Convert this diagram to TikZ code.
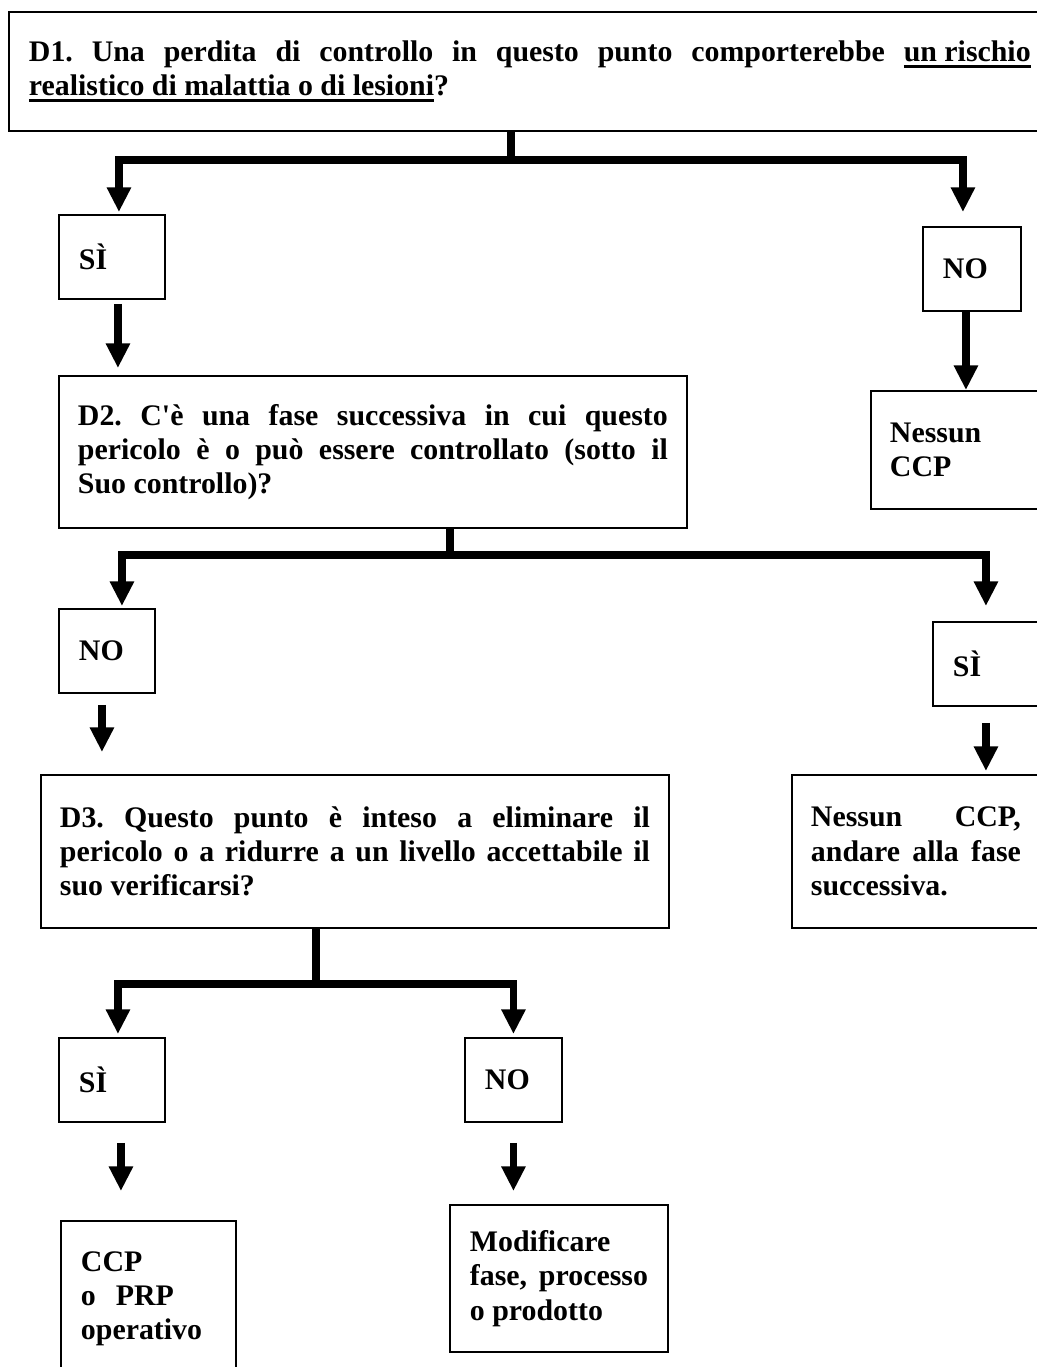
\documentclass[tikz,border=0pt]{standalone}
\usepackage{fontspec}
\setmainfont{Liberation Serif}[Ligatures=TeXOff]
\usetikzlibrary{arrows.meta,calc}
\newcommand{\uln}[1]{\leavevmode\vtop{\hbox{#1}\kern1.8pt\hrule height 1.4pt}}
\tikzset{
  box/.style={draw,line width=1.1pt,anchor=north west,inner ysep=0pt,inner xsep=0.4cm,
    align=justify,font=\bfseries\fontsize{17}{19.5}\selectfont\frenchspacing},
  trunk/.style={line width=4.2pt},
  arr/.style={line width=4.2pt,-{Triangle[width=13pt,length=14pt]}}
}

\begin{document}
\begin{tikzpicture}[x=0.02cm,y=-0.02cm]
  \useasboundingbox (0,0) rectangle (1036,1367);
  \node[box,text width=20.04cm,minimum height=2.38cm] (d1) at (8,11)
    {D1. Una perdita di controllo in questo punto comporterebbe \uln{un rischio}\linebreak \uln{realistico di malattia o di lesioni}?};
  \node[box,align=left,text width=1.32cm,minimum height=1.68cm] (yes1) at (58,214) {SÌ};
  \node[box,align=left,text width=1.16cm,minimum height=1.68cm] (no1) at (922,226) {NO};
  \node[box,align=left,inner xsep=0.38cm,text width=2.8cm,minimum height=2.36cm] (nocp1) at (870,390) {Nessun\\CCP};
  \node[box,inner xsep=0.38cm,text width=11.8cm,minimum height=3.04cm] (d2) at (58,375)
    {D2. C'è una fase successiva in cui questo\linebreak pericolo è o può essere controllato (sotto il\linebreak Suo controllo)?};
  \node[box,align=left,text width=1.12cm,minimum height=1.68cm] (no2) at (58,608) {NO};
  \node[box,align=left,text width=1.32cm,minimum height=1.68cm] (yes2) at (932,621) {SÌ};
  \node[box,inner xsep=0.38cm,text width=11.8cm,minimum height=3.06cm] (d3) at (40,774)
    {D3. Questo punto è inteso a eliminare il\linebreak pericolo o a ridurre a un livello accettabile il\linebreak suo verificarsi?};
  \node[box,inner xsep=0.38cm,text width=4.2cm,minimum height=3.06cm] (nocp2) at (791,774)
    {Nessun CCP,\linebreak andare alla fase\linebreak successiva.};
  \node[box,align=left,text width=1.32cm,minimum height=1.68cm] (yes3) at (58,1037) {SÌ};
  \node[box,align=left,text width=1.14cm,minimum height=1.68cm] (no3) at (464,1037) {NO};
  \node[box,align=left,text width=2.7cm,minimum height=3.12cm] (ccp) at (60,1220)
    {CCP\\o\ \ PRP\\operativo};
  \node[box,text width=3.56cm,minimum height=2.94cm] (mod) at (449,1204)
    {Modificare\linebreak fase, processo\linebreak o prodotto};

  \coordinate (t1) at (511,160);
  \draw[trunk] (d1.south -| t1) -- (t1);
  \draw[arr,shorten >=0.04cm] (t1) -| ([xshift=0.14cm]yes1.north);
  \draw[arr,shorten >=0.28cm] (t1) -| ([xshift=-0.18cm]no1.north);
  \draw[arr,shorten <=0.08cm,shorten >=0.14cm] ([xshift=0.12cm]yes1.south) -- ([xshift=0.12cm]yes1.south |- d2.north);
  \draw[arr] ([xshift=-0.12cm]no1.south) -- ([xshift=-0.12cm]no1.south |- nocp1.north);

  \coordinate (t2) at (450,555);
  \draw[trunk] (d2.south -| t2) -- (t2);
  \draw[arr,shorten >=0.04cm] (t2) -| ([xshift=0.3cm]no2.north);
  \draw[arr,shorten >=0.3cm] (t2) -| (yes2.north);
  \draw[arr,shorten <=0.22cm,shorten >=0.44cm] ([xshift=-0.1cm]no2.south) -- ([xshift=-0.1cm]no2.south |- d3.north);
  \draw[arr,shorten <=0.32cm,shorten >=0.06cm] (yes2.south) -- (yes2.south |- nocp2.north);

  \coordinate (t3) at (316,984);
  \draw[trunk] (d3.south -| t3) -- (t3);
  \draw[arr,shorten >=0.06cm] (t3) -| ([xshift=0.12cm]yes3.north);
  \draw[arr,shorten >=0.06cm] (t3) -| (no3.north);
  \draw[arr,shorten <=0.4cm,shorten >=0.58cm] ([xshift=0.18cm]yes3.south) -- ([xshift=0.18cm]yes3.south |- ccp.north);
  \draw[arr,shorten <=0.4cm,shorten >=0.26cm] (no3.south) -- (no3.south |- mod.north);
\end{tikzpicture}
\end{document}
